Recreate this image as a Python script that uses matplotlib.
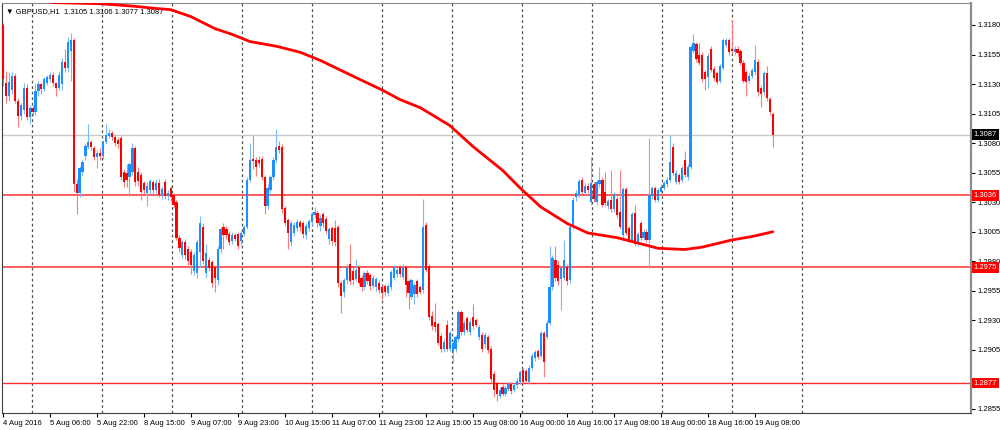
import matplotlib
matplotlib.use('Agg')
import matplotlib.pyplot as plt
import matplotlib.transforms as mtransforms
import numpy as np

plt.rcParams['font.family'] = ['Liberation Sans', 'DejaVu Sans']

# GBPUSD H1 candles (one entry per bar)
opens = [
    1.3180, 1.3131, 1.3120, 1.3125, 1.3137, 1.3116, 1.3103, 1.3108, 1.3127, 1.3102,
    1.3110, 1.3106, 1.3124, 1.3130, 1.3126, 1.3131, 1.3134, 1.3138, 1.3131, 1.3127,
    1.3130, 1.3149, 1.3144, 1.3158, 1.3167, 1.3045, 1.3038, 1.3056, 1.3069, 1.3077,
    1.3081, 1.3076, 1.3068, 1.3072, 1.3069, 1.3081, 1.3086, 1.3089, 1.3085, 1.3083,
    1.3084, 1.3056, 1.3055, 1.3051, 1.3056, 1.3076, 1.3056, 1.3053, 1.3046, 1.3038,
    1.3040, 1.3047, 1.3040, 1.3046, 1.3036, 1.3047, 1.3035, 1.3042, 1.3036, 1.3030,
    1.3000, 1.2985, 1.2996, 1.2990, 1.2988, 1.2972, 1.2970, 1.2988, 1.3009, 1.2970,
    1.2981, 1.2979, 1.2975, 1.2964, 1.2990, 1.3009, 1.3007, 1.3003, 1.2997, 1.3002,
    1.3003, 1.2997, 1.3003, 1.3009, 1.3049, 1.3067, 1.3066, 1.3066, 1.3067, 1.3051,
    1.3027, 1.3040, 1.3051, 1.3066, 1.3078, 1.3077, 1.3025, 1.3015, 1.2996, 1.3004,
    1.3008, 1.3013, 1.3012, 1.3002, 1.3008, 1.3013, 1.3019, 1.3021, 1.3010, 1.3020,
    1.3016, 1.2999, 1.3008, 1.3008, 1.3009, 1.2962, 1.2954, 1.2964, 1.2978, 1.2972,
    1.2965, 1.2975, 1.2966, 1.2958, 1.2970, 1.2968, 1.2959, 1.2958, 1.2962, 1.2958,
    1.2959, 1.2953, 1.2958, 1.2966, 1.2969, 1.2975, 1.2967, 1.2975, 1.2963, 1.2950,
    1.2952, 1.2963, 1.2958, 1.2956, 1.3011, 1.2976, 1.2934, 1.2929, 1.2927, 1.2917,
    1.2906, 1.2926, 1.2906, 1.2904, 1.2906, 1.2914, 1.2937, 1.2920, 1.2932, 1.2920,
    1.2933, 1.2930, 1.2916, 1.2918, 1.2910, 1.2916, 1.2906, 1.2885, 1.2877, 1.2866,
    1.2874, 1.2868, 1.2872, 1.2876, 1.2871, 1.2875, 1.2878, 1.2888, 1.2887, 1.2878,
    1.2890, 1.2898, 1.2904, 1.2900, 1.2919, 1.2916, 1.2928, 1.2958, 1.2981, 1.2977,
    1.2965, 1.2966, 1.2975, 1.2964, 1.3009, 1.3034, 1.3036, 1.3049, 1.3038, 1.3044,
    1.3030, 1.3045, 1.3030, 1.3045, 1.3049, 1.3039, 1.3027, 1.3032, 1.3024, 1.3033,
    1.3022, 1.3002, 1.3041, 1.3008, 1.2998, 1.3021, 1.2995, 1.3012, 1.3000, 1.3005,
    1.2998, 1.3035, 1.3042, 1.3032, 1.3039, 1.3042, 1.3045, 1.3049, 1.3077, 1.3047,
    1.3053, 1.3049, 1.3066, 1.3051, 1.3060, 1.3158, 1.3164, 1.3155, 1.3155, 1.3140,
    1.3136, 1.3160, 1.3143, 1.3139, 1.3133, 1.3144, 1.3163, 1.3167, 1.3160, 1.3157,
    1.3160, 1.3158, 1.3148, 1.3140, 1.3133, 1.3137, 1.3140, 1.3149, 1.3127, 1.3123,
    1.3139, 1.3117, 1.3105,
]
highs = [
    1.3182, 1.3141, 1.3140, 1.3140, 1.3139, 1.3118, 1.3114, 1.3131, 1.3130, 1.3112,
    1.3112, 1.3131, 1.3133, 1.3131, 1.3136, 1.3138, 1.3140, 1.3140, 1.3132, 1.3141,
    1.3152, 1.3160, 1.3170, 1.3173, 1.3169, 1.3050, 1.3061, 1.3066, 1.3080, 1.3096,
    1.3083, 1.3078, 1.3074, 1.3076, 1.3083, 1.3096, 1.3092, 1.3090, 1.3087, 1.3085,
    1.3086, 1.3058, 1.3062, 1.3064, 1.3080, 1.3078, 1.3060, 1.3056, 1.3048, 1.3047,
    1.3050, 1.3049, 1.3050, 1.3050, 1.3044, 1.3050, 1.3040, 1.3044, 1.3038, 1.3032,
    1.3002, 1.2998, 1.2999, 1.2993, 1.2990, 1.2988, 1.2999, 1.3018, 1.3012, 1.2995,
    1.2984, 1.2981, 1.2977, 1.2993, 1.3009, 1.3012, 1.3010, 1.3006, 1.3005, 1.3004,
    1.3005, 1.3006, 1.3011, 1.3051, 1.3080, 1.3087, 1.3068, 1.3069, 1.3069, 1.3053,
    1.3045, 1.3053, 1.3068, 1.3092, 1.3082, 1.3079, 1.3027, 1.3017, 1.3014, 1.3013,
    1.3016, 1.3015, 1.3014, 1.3012, 1.3016, 1.3022, 1.3026, 1.3023, 1.3019, 1.3022,
    1.3018, 1.3009, 1.3010, 1.3015, 1.3011, 1.2964, 1.2966, 1.2978, 1.2995, 1.2975,
    1.2982, 1.2977, 1.2968, 1.2972, 1.2973, 1.2970, 1.2968, 1.2967, 1.2964, 1.2960,
    1.2961, 1.2961, 1.2973, 1.2977, 1.2975, 1.2977, 1.2978, 1.2977, 1.2965, 1.2966,
    1.2962, 1.2965, 1.2960, 1.3033, 1.3013, 1.2978, 1.2938, 1.2945, 1.2929, 1.2919,
    1.2914, 1.2930, 1.2921, 1.2913, 1.2918, 1.2939, 1.2939, 1.2930, 1.2934, 1.2931,
    1.2944, 1.2932, 1.2926, 1.2920, 1.2920, 1.2918, 1.2908, 1.2887, 1.2879, 1.2874,
    1.2876, 1.2875, 1.2878, 1.2878, 1.2877, 1.2881, 1.2888, 1.2890, 1.2889, 1.2892,
    1.2902, 1.2905, 1.2906, 1.2921, 1.2921, 1.2930, 1.2993, 1.2985, 1.2993, 1.2980,
    1.2976, 1.2998, 1.2978, 1.3011, 1.3034, 1.3040, 1.3050, 1.3051, 1.3046, 1.3046,
    1.3068, 1.3047, 1.3049, 1.3060, 1.3051, 1.3056, 1.3033, 1.3057, 1.3039, 1.3035,
    1.3057, 1.3043, 1.3043, 1.3010, 1.3022, 1.3028, 1.3005, 1.3014, 1.3007, 1.3007,
    1.3084, 1.3044, 1.3044, 1.3042, 1.3045, 1.3048, 1.3051, 1.3087, 1.3080, 1.3057,
    1.3055, 1.3061, 1.3073, 1.3062, 1.3163, 1.3172, 1.3166, 1.3165, 1.3157, 1.3142,
    1.3156, 1.3162, 1.3145, 1.3141, 1.3147, 1.3169, 1.3169, 1.3169, 1.3184, 1.3162,
    1.3162, 1.3160, 1.3150, 1.3142, 1.3139, 1.3144, 1.3163, 1.3151, 1.3129, 1.3141,
    1.3145, 1.3119, 1.3106,
]
lows = [
    1.3128, 1.3114, 1.3116, 1.3122, 1.3114, 1.3094, 1.3100, 1.3105, 1.3100, 1.3096,
    1.3104, 1.3104, 1.3120, 1.3122, 1.3124, 1.3129, 1.3132, 1.3128, 1.3120, 1.3125,
    1.3125, 1.3140, 1.3140, 1.3133, 1.3039, 1.3020, 1.3034, 1.3052, 1.3066, 1.3075,
    1.3074, 1.3066, 1.3059, 1.3066, 1.3067, 1.3079, 1.3084, 1.3083, 1.3078, 1.3076,
    1.3049, 1.3043, 1.3043, 1.3035, 1.3053, 1.3044, 1.3044, 1.3032, 1.3036, 1.3027,
    1.3037, 1.3037, 1.3037, 1.3034, 1.3033, 1.3033, 1.3032, 1.3031, 1.3025, 1.2998,
    1.2988, 1.2983, 1.2982, 1.2977, 1.2969, 1.2968, 1.2966, 1.2975, 1.2978, 1.2966,
    1.2972, 1.2958, 1.2954, 1.2960, 1.2987, 1.2990, 1.2999, 1.2994, 1.2995, 1.2997,
    1.2990, 1.2994, 1.3001, 1.3007, 1.3047, 1.3058, 1.3052, 1.3060, 1.3049, 1.3020,
    1.3024, 1.3038, 1.3049, 1.3064, 1.3072, 1.3021, 1.3010, 1.2990, 1.2993, 1.3001,
    1.3006, 1.3006, 1.3000, 1.2999, 1.3006, 1.3011, 1.3017, 1.3009, 1.3006, 1.3009,
    1.3003, 1.2995, 1.2994, 1.2993, 1.2958, 1.2936, 1.2950, 1.2961, 1.2960, 1.2961,
    1.2963, 1.2960, 1.2955, 1.2956, 1.2961, 1.2956, 1.2957, 1.2955, 1.2953, 1.2948,
    1.2951, 1.2951, 1.2956, 1.2964, 1.2967, 1.2967, 1.2965, 1.2950, 1.2940, 1.2948,
    1.2944, 1.2950, 1.2952, 1.2953, 1.2971, 1.2930, 1.2922, 1.2920, 1.2909, 1.2903,
    1.2903, 1.2904, 1.2904, 1.2895, 1.2903, 1.2912, 1.2918, 1.2918, 1.2920, 1.2918,
    1.2923, 1.2924, 1.2913, 1.2903, 1.2907, 1.2902, 1.2877, 1.2865, 1.2862, 1.2864,
    1.2866, 1.2866, 1.2870, 1.2868, 1.2869, 1.2873, 1.2876, 1.2876, 1.2877, 1.2876,
    1.2888, 1.2896, 1.2897, 1.2898, 1.2882, 1.2914, 1.2926, 1.2956, 1.2963, 1.2960,
    1.2939, 1.2964, 1.2960, 1.2962, 1.3007, 1.3031, 1.3034, 1.3037, 1.3036, 1.3038,
    1.3028, 1.3030, 1.3028, 1.3043, 1.3026, 1.3027, 1.3024, 1.3022, 1.3022, 1.3017,
    1.3007, 1.2998, 1.3002, 1.2996, 1.2996, 1.2993, 1.2993, 1.2998, 1.2998, 1.2996,
    1.2974, 1.3033, 1.3030, 1.3030, 1.3037, 1.3040, 1.3043, 1.3047, 1.3053, 1.3045,
    1.3045, 1.3047, 1.3051, 1.3049, 1.3058, 1.3156, 1.3149, 1.3146, 1.3132, 1.3125,
    1.3127, 1.3140, 1.3133, 1.3130, 1.3131, 1.3142, 1.3161, 1.3155, 1.3156, 1.3155,
    1.3154, 1.3146, 1.3131, 1.3120, 1.3131, 1.3135, 1.3138, 1.3120, 1.3111, 1.3121,
    1.3116, 1.3104, 1.3077,
]
closes = [
    1.3134, 1.3120, 1.3132, 1.3137, 1.3116, 1.3103, 1.3112, 1.3127, 1.3102, 1.3110,
    1.3106, 1.3124, 1.3130, 1.3126, 1.3134, 1.3136, 1.3138, 1.3131, 1.3127, 1.3138,
    1.3149, 1.3144, 1.3166, 1.3167, 1.3045, 1.3038, 1.3059, 1.3064, 1.3078, 1.3081,
    1.3077, 1.3068, 1.3072, 1.3069, 1.3081, 1.3087, 1.3089, 1.3085, 1.3080, 1.3079,
    1.3051, 1.3047, 1.3049, 1.3062, 1.3076, 1.3047, 1.3048, 1.3039, 1.3040, 1.3044,
    1.3048, 1.3040, 1.3046, 1.3036, 1.3041, 1.3035, 1.3038, 1.3034, 1.3028, 1.3000,
    1.2991, 1.2996, 1.2985, 1.2980, 1.2977, 1.2985, 1.2996, 1.3012, 1.2980, 1.2987,
    1.2974, 1.2962, 1.2966, 1.2990, 1.3007, 1.3002, 1.3002, 1.2996, 1.3002, 1.2999,
    1.2993, 1.3004, 1.3009, 1.3049, 1.3066, 1.3065, 1.3060, 1.3063, 1.3051, 1.3027,
    1.3042, 1.3051, 1.3066, 1.3077, 1.3074, 1.3024, 1.3012, 1.3004, 1.3012, 1.3011,
    1.3013, 1.3009, 1.3003, 1.3010, 1.3014, 1.3020, 1.3022, 1.3012, 1.3017, 1.3012,
    1.3006, 1.3007, 1.2997, 1.2996, 1.2962, 1.2951, 1.2964, 1.2975, 1.2963, 1.2964,
    1.2973, 1.2962, 1.2958, 1.2970, 1.2963, 1.2959, 1.2966, 1.2965, 1.2956, 1.2953,
    1.2954, 1.2959, 1.2971, 1.2975, 1.2973, 1.2969, 1.2975, 1.2960, 1.2953, 1.2964,
    1.2960, 1.2952, 1.2954, 1.3009, 1.2973, 1.2933, 1.2925, 1.2924, 1.2911, 1.2906,
    1.2912, 1.2906, 1.2919, 1.2911, 1.2916, 1.2937, 1.2920, 1.2928, 1.2922, 1.2929,
    1.2925, 1.2926, 1.2924, 1.2906, 1.2918, 1.2905, 1.2880, 1.2871, 1.2868, 1.2871,
    1.2868, 1.2873, 1.2876, 1.2870, 1.2875, 1.2879, 1.2886, 1.2878, 1.2879, 1.2890,
    1.2900, 1.2903, 1.2899, 1.2919, 1.2895, 1.2928, 1.2958, 1.2983, 1.2966, 1.2963,
    1.2974, 1.2981, 1.2963, 1.3009, 1.3032, 1.3038, 1.3048, 1.3039, 1.3044, 1.3040,
    1.3046, 1.3033, 1.3047, 1.3049, 1.3028, 1.3029, 1.3031, 1.3024, 1.3037, 1.3019,
    1.3009, 1.3041, 1.3004, 1.2998, 1.3020, 1.2995, 1.3003, 1.3000, 1.3005, 1.2998,
    1.3036, 1.3042, 1.3032, 1.3040, 1.3043, 1.3046, 1.3049, 1.3064, 1.3055, 1.3055,
    1.3047, 1.3059, 1.3053, 1.3060, 1.3161, 1.3165, 1.3151, 1.3148, 1.3134, 1.3134,
    1.3154, 1.3142, 1.3135, 1.3132, 1.3145, 1.3167, 1.3167, 1.3157, 1.3158, 1.3160,
    1.3156, 1.3148, 1.3133, 1.3132, 1.3137, 1.3142, 1.3150, 1.3123, 1.3122, 1.3139,
    1.3118, 1.3106, 1.3087,
]

# moving average, sampled along the curve (bar index, price)
ma_bars = [10, 17, 33, 44, 52, 57, 64, 72, 78, 84, 93, 101, 108, 118, 129, 135,
           142, 152, 160, 170, 176, 183, 192, 199, 209, 223, 232, 238, 248, 255, 262]
ma_vals = [1.3202, 1.3199, 1.3198, 1.3196, 1.3194, 1.3193, 1.3187, 1.3177, 1.3172,
           1.3166, 1.3162, 1.3157, 1.3150, 1.3138, 1.3125, 1.3117, 1.3110, 1.3095,
           1.3077, 1.3057, 1.3042, 1.3026, 1.3012, 1.3004, 1.3000, 1.2991, 1.2990,
           1.2992, 1.2998, 1.3001, 1.3005]

last_price = 1.3087
levels = [1.3036, 1.2975, 1.2877]

time_labels = ['4 Aug 2016', '5 Aug 06:00', '5 Aug 22:00', '8 Aug 15:00', '9 Aug 07:00',
               '9 Aug 23:00', '10 Aug 15:00', '11 Aug 07:00', '11 Aug 23:00',
               '12 Aug 15:00', '15 Aug 08:00', '16 Aug 00:00', '16 Aug 16:00',
               '17 Aug 08:00', '18 Aug 00:00', '18 Aug 16:00', '19 Aug 08:00']

o = np.array(opens)
h = np.array(highs)
l = np.array(lows)
c = np.array(closes)
x = np.arange(len(c))

fs = 5.5

fig = plt.figure(figsize=(10, 4.3), dpi=100)
ax = fig.add_axes([0.002, 0.0395, 0.969, 0.9535])

px_per_bar = 2.9375
ax.set_xlim(-0.4, -0.4 + 969 / px_per_bar)
ax.set_ylim(1.28516, 1.31986)

# vertical dashed grid
for k in range(12):
    gx = (32 + 70 * k - 2) / px_per_bar - 0.4
    ax.axvline(gx, color='#505050', lw=0.9, ls=(0, (2.2, 2.2)), zorder=1)

# horizontal levels
ax.axhline(last_price, color='#c8c8c8', lw=1.0, zorder=1)
ax.axhline(levels[0], color='#ff5a5a', lw=1.4, zorder=1)
ax.axhline(levels[1], color='#ff5a5a', lw=1.4, zorder=1)
ax.axhline(levels[2], color='#ff2a2a', lw=1.0, zorder=1)

up = c >= o
body_col = np.where(up, '#1E8FFF', '#FF0000')
wick_col = np.where(up, '#7ab8ff', '#ff7a7a')
ax.vlines(x, l, h, colors=wick_col, lw=0.8, zorder=2)
body_h = np.maximum(np.abs(c - o), 0.00010)
ax.bar(x, body_h, bottom=np.minimum(o, c), width=0.75, color=body_col,
       linewidth=0, zorder=3)

# moving average
ax.plot(ma_bars, ma_vals, color='#ff0000', lw=2.0, zorder=4, solid_capstyle='round')

# title
ax.text(0.004, 0.988, '\u25bc GBPUSD,H1  1.3105 1.3106 1.3077 1.3087',
        transform=ax.transAxes, fontsize=fs, va='top', ha='left', color='black',
        zorder=2)

# axes
for s in ['top', 'right']:
    ax.spines[s].set_color('#8c8c8c')
ax.spines['right'].set_linewidth(1.6)
for s in ['left', 'bottom']:
    ax.spines[s].set_color('#404040')

yt = np.arange(1.2855, 1.31801, 0.0025)
ax.yaxis.tick_right()
ax.set_yticks(yt)
# 1.2880 sits fully under the 1.2877 tag
ax.set_yticklabels(['' if abs(v - 1.2880) < 1e-6 else '%.4f' % v for v in yt])
ax.tick_params(axis='y', length=3, width=0.8, pad=1.5, labelsize=fs, colors='black')

ax.set_xticks(range(0, 16 * len(time_labels), 16))
ax.set_xticklabels(time_labels)
for lbl in ax.get_xticklabels():
    lbl.set_ha('left')
ax.tick_params(axis='x', length=3, width=0.8, pad=2, labelsize=fs, colors='black')

# price tags on the right scale
trans = mtransforms.blended_transform_factory(ax.transAxes, ax.transData)
tags = [(last_price, 'black')] + [(v, '#ff0000') for v in levels]
for val, col in tags:
    ax.text(1.003, val, '%.4f' % val, transform=trans, fontsize=fs, color='white',
            va='center', ha='left', clip_on=False, zorder=10,
            bbox=dict(boxstyle='square,pad=0.25', fc=col, ec='none'))

fig.savefig('out.png', dpi=100)
